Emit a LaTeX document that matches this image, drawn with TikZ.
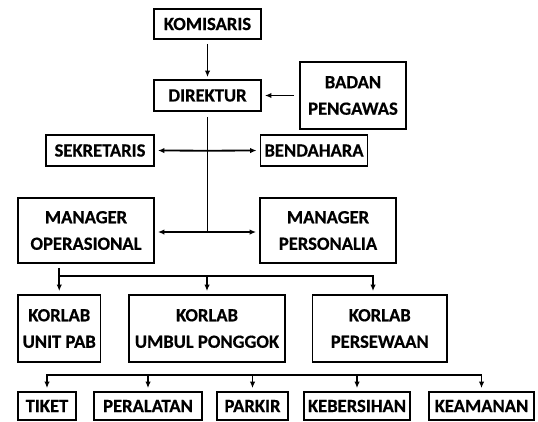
\documentclass[tikz,border=0pt]{standalone}
\usepackage{fontspec}
\setmainfont{Carlito}[BoldFeatures={FakeBold=0.5}]
\usetikzlibrary{arrows.meta}
\begin{document}
\begin{tikzpicture}[x=1pt,y=-1pt,
  box/.style={draw, line width=1.9pt, inner sep=0pt, align=center,
    font=\bfseries\fontsize{18.6}{26.5}\selectfont},
  conn/.style={line width=1.8pt},
  arr/.style={conn, -{Latex[length=6.5pt,width=5.5pt]}},
]
\useasboundingbox (0,0) rectangle (538,421);
\node[box, minimum width=107pt, minimum height=30pt] (kom) at (207.5,24) {KOMISARIS};
\node[box, minimum width=107pt, minimum height=31pt] (dir) at (207.5,95.5) {DIREKTUR};
\node[box, minimum width=106pt, minimum height=67pt] (badan) at (353,95.5) {BADAN\\PENGAWAS};
\node[box, minimum width=108pt, minimum height=31pt] (sek) at (100,150.5) {SEKRETARIS};
\node[box, minimum width=107pt, minimum height=31pt] (ben) at (314,150.5) {BENDAHARA};
\node[box, minimum width=136pt, minimum height=65pt] (mop) at (86,230.5) {MANAGER\\OPERASIONAL};
\node[box, minimum width=136pt, minimum height=65pt] (mpers) at (328,230.5) {MANAGER\\PERSONALIA};
\node[box, minimum width=82.5pt, minimum height=67pt] (k1) at (59.25,328.5) {KORLAB\\UNIT PAB};
\node[box, minimum width=156pt, minimum height=67pt] (k2) at (207,328.5) {KORLAB\\UMBUL PONGGOK};
\node[box, minimum width=134.5pt, minimum height=67pt] (k3) at (379.75,328.5) {KORLAB\\PERSEWAAN};
\node[box, minimum width=58pt, minimum height=28pt] (t1) at (47,406) {TIKET};
\node[box, minimum width=108pt, minimum height=28pt] (t2) at (148,406) {PERALATAN};
\node[box, minimum width=71pt, minimum height=28pt] (t3) at (252.5,406) {PARKIR};
\node[box, minimum width=106pt, minimum height=28pt] (t4) at (357,406) {KEBERSIHAN};
\node[box, minimum width=105pt, minimum height=28pt] (t5) at (481.5,406) {KEAMANAN};

\coordinate (j1) at (207.5,150.7);
\coordinate (j2) at (207.5,232);
\coordinate (h1) at (59.25,276);
\coordinate (h3) at (373,276);
\coordinate (b1) at (47,375);
\coordinate (b5) at (481.5,375);

\draw[arr, shorten <=4pt, shorten >=2pt] (kom) -- (dir);
\draw[arr, shorten <=5pt, shorten >=3pt] (badan.west) -- (dir.east);
\draw[conn, shorten <=5pt] (dir.south) -- (j2);
\draw[arr, shorten >=3pt] (j1) -- (sek.east);
\draw[arr, shorten >=3pt] (j1) -- (ben.west);
\draw[arr, shorten >=3pt] (j2) -- (j2 -| mop.east);
\draw[arr, shorten >=3pt] (j2) -- (j2 -| mpers.west);
\draw[arr, shorten <=4pt, shorten >=3pt] (mop.south -| h1) -- (k1.north);
\draw[conn, line cap=rect] (h1) -- (h3);
\draw[arr, shorten >=3pt] (h1 -| k2.north) -- (k2.north);
\draw[arr, shorten >=3pt] (h3) -- (h3 |- k3.north);
\draw[conn, line cap=rect] (b1) -- (b5);
\foreach \n in {t1,t2,t3,t4,t5}
  \draw[arr, shorten >=3pt] (b1 -| \n.north) -- (\n.north);
\end{tikzpicture}
\end{document}
